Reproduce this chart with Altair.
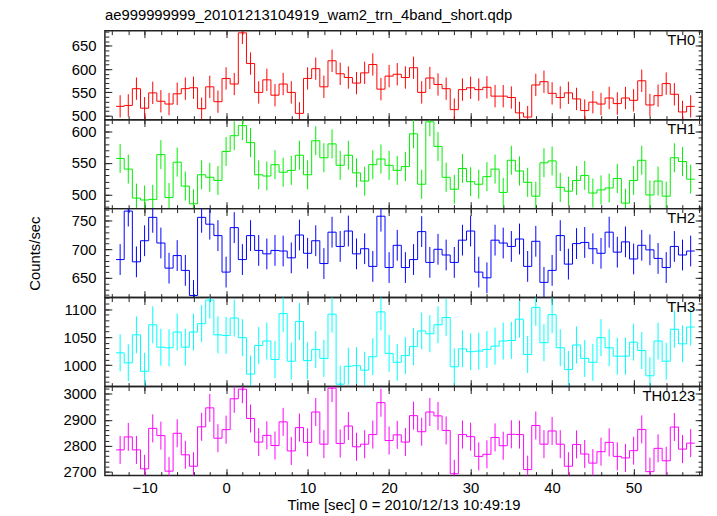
import altair as alt
import pandas as pd

FONT = "Liberation Sans"

# time bin centres (s)
time_bins = list(range(-13, 58))

th0 = [520, 522, 558, 516, 549, 531, 525, 547, 558, 560, 515, 562, 530, 580, 568, 678, 612,
       550, 577, 544, 568, 550, 505, 580, 601, 562, 618, 590, 582, 570, 592, 610, 557, 585,
       589, 582, 603, 550, 581, 567, 558, 513, 556, 560, 556, 561, 542, 542, 539, 506, 497,
       566, 573, 548, 539, 549, 536, 511, 529, 525, 538, 526, 538, 533, 575, 523, 543, 569,
       546, 508, 520]
th1 = [557, 540, 494, 491, 492, 563, 495, 551, 513, 485, 531, 527, 522, 568, 593, 609, 582,
       531, 529, 547, 535, 538, 562, 531, 585, 558, 580, 546, 562, 534, 521, 547, 556, 546,
       538, 544, 596, 516, 615, 576, 527, 508, 541, 520, 516, 528, 540, 503, 554, 537, 519,
       497, 550, 553, 511, 505, 522, 530, 502, 507, 510, 525, 486, 522, 554, 499, 521, 497,
       558, 552, 524]
th2 = [682, 767, 678, 715, 756, 711, 667, 689, 663, 619, 756, 744, 724, 660, 738, 682, 724,
       698, 692, 698, 697, 685, 725, 693, 715, 675, 730, 705, 732, 692, 701, 670, 758, 668,
       707, 668, 682, 731, 677, 700, 690, 677, 716, 732, 660, 650, 716, 711, 705, 718, 670,
       714, 642, 663, 724, 674, 710, 712, 701, 693, 730, 695, 713, 683, 707, 699, 684, 668,
       705, 690, 697]
th3 = [1022, 1004, 1054, 989, 1072, 1032, 1031, 1059, 1032, 1059, 1074, 1116, 1054, 1053,
       1084, 1049, 984, 1035, 1043, 1010, 1092, 1007, 1078, 1008, 1028, 1012, 1091, 966, 998,
       999, 991, 1015, 1095, 1021,
       1005, 1017, 1033, 1061, 1056, 1072, 1085, 997, 1029, 1024, 1025, 1028, 1034, 1043,
       1044, 1082, 1019, 1103, 1040, 1090, 1031, 992, 1036, 1012, 1005, 1049, 1031, 1016,
       1016, 1041, 1026, 981, 1043, 1007, 1064, 1038, 1068]
th0123 = [2784, 2834, 2784, 2711, 2867, 2839, 2702, 2848, 2765, 2721, 2873, 2946, 2829, 2862,
          2981, 3018, 2905, 2814, 2840, 2801, 2892, 2780, 2870, 2813, 2930, 2806, 3022, 2809,
          2876, 2796, 2806, 2843, 2966, 2820,
          2842, 2814, 2916, 2854, 2930, 2915, 2859, 2692, 2843, 2835, 2759, 2767, 2832, 2800,
          2844, 2843, 2708, 2878, 2806, 2857, 2806, 2721, 2805, 2768, 2733, 2777, 2813, 2759,
          2753, 2781, 2863, 2700, 2790, 2742, 2872, 2787, 2810]

names = ["TH0", "TH1", "TH2", "TH3", "TH0123"]
series = [th0, th1, th2, th3, th0123]
errors = [24, 23, 27, 33, 54]
colors = ["#ff0000", "#00ee00", "#0000ff", "#00ffff", "#ff00ff"]
y_domains = [[491.5, 682.7], [477.3, 618.5], [615.3, 771.3], [961.7, 1120.5], [2685, 3028]]
y_major = [[500, 550, 600, 650], [500, 550, 600], [650, 700, 750],
           [1000, 1050, 1100], [2700, 2800, 2900, 3000]]
y_minor_step = [10, 10, 10, 10, 20]
x_domain = [-14.87, 58.4]
x_major = [-10, 0, 10, 20, 30, 40, 50]
x_minor = list(range(-14, 59, 2))

TITLE = "ae999999999_20101213104919_wam2_trn_4band_short.qdp"
XTITLE = "Time [sec] 0 = 2010/12/13 10:49:19"
YTITLE = "Counts/sec"

W, H = 604, 90
MAJ, MIN = 7, 4
TICK = "#222222"


def ax(orient, values, size, labels=False, title=None, title_pad=None):
    kw = dict(orient=orient, values=values, tickSize=size, offset=-size, domain=False,
              grid=False, labels=labels, ticks=True, tickColor=TICK, tickWidth=1,
              title=title)
    if labels:
        kw.update(labelFont=FONT, labelFontSize=15, labelColor="black",
                  labelPadding=9 if orient == "left" else 5, format="d")
    if title is not None:
        kw.update(titleFont=FONT, titleFontSize=15, titleColor="black",
                  titleFontWeight="normal")
        if title_pad is not None:
            kw.update(titlePadding=title_pad)
    return alt.Axis(**kw)


def panel(k):
    vals = series[k]
    err = errors[k]
    c = colors[k]
    last = k == len(series) - 1
    dom = y_domains[k]
    lo = y_minor_step[k] * int(dom[0] // y_minor_step[k])
    minor_vals = list(range(lo, int(dom[1]) + 1, y_minor_step[k]))

    step_df = pd.DataFrame({
        "x": [t + d for t in time_bins for d in (-0.5, 0.5)],
        "v": [v for v in vals for _ in (0, 1)],
        "i": list(range(2 * len(vals))),
    })
    bin_df = pd.DataFrame({"t": time_bins, "v": vals,
                           "lo": [v - err for v in vals], "hi": [v + err for v in vals]})

    xs = alt.Scale(domain=x_domain, nice=False, zero=False)
    ys = alt.Scale(domain=dom, nice=False, zero=False)

    step = alt.Chart(step_df).mark_line(color=c, strokeWidth=1, clip=True).encode(
        x=alt.X("x:Q", scale=xs,
                axis=ax("bottom", x_major, MAJ, labels=last,
                        title=XTITLE if last else None, title_pad=2)),
        y=alt.Y("v:Q", scale=ys,
                axis=ax("left", y_major[k], MAJ, labels=True,
                        title=YTITLE if k == 2 else None, title_pad=29)),
        order="i:Q",
    )
    errs = alt.Chart(bin_df).mark_rule(color=c, strokeWidth=1, clip=True).encode(
        x=alt.X("t:Q", scale=xs, axis=ax("top", x_major, MAJ)),
        y=alt.Y("lo:Q", scale=ys, axis=ax("right", y_major[k], MAJ)),
        y2="hi:Q",
    )
    minor_a = alt.Chart(bin_df).mark_point(opacity=0).encode(
        x=alt.X("t:Q", scale=xs, axis=ax("bottom", x_minor, MIN)),
        y=alt.Y("v:Q", scale=ys, axis=ax("left", minor_vals, MIN)),
    )
    minor_b = alt.Chart(bin_df).mark_point(opacity=0).encode(
        x=alt.X("t:Q", scale=xs, axis=ax("top", x_minor, MIN)),
        y=alt.Y("v:Q", scale=ys, axis=ax("right", minor_vals, MIN)),
    )
    label = alt.Chart(pd.DataFrame({"name": [names[k]]})).mark_text(
        align="right", baseline="top", font=FONT, fontSize=15, color="black"
    ).encode(text="name:N", x=alt.value(W - 7), y=alt.value(3))

    return alt.layer(minor_a, minor_b, step, errs, label).resolve_axis(
        x="independent", y="independent").properties(width=W, height=H)


chart = alt.vconcat(*[panel(k) for k in range(5)], spacing=0, bounds="flush").properties(
    title=alt.TitleParams(TITLE, anchor="start", frame="group", font=FONT, fontSize=15,
                          fontWeight="normal", color="black", offset=6),
    padding={"left": 19, "top": -3, "right": 5, "bottom": 2},
).configure_view(stroke="#222222", strokeWidth=1.5)

chart.save("out.html", embed_options={"renderer": "svg", "actions": False})
